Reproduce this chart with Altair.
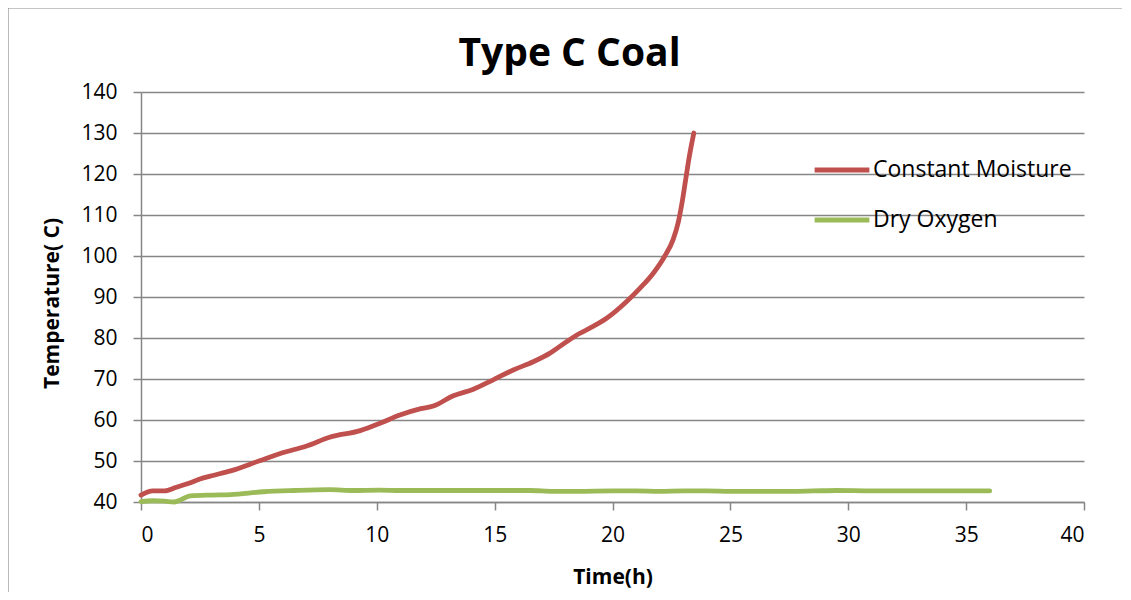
import altair as alt
import pandas as pd

# Constant Moisture series
cm_time = [0, 0.5, 1.0, 1.5, 2.0, 2.5, 3.0, 3.8, 5.0, 6.0, 7.0, 8.0, 9.3, 10.14, 10.98,
           11.83, 12.4, 13.25, 14.1, 14.94, 15.79, 16.64, 17.35, 18.05, 18.6, 19.04,
           19.75, 20.6, 21.16, 21.73, 22.22, 22.57, 22.8, 22.95, 23.1, 23.25, 23.45]
cm_temp = [41.7, 42.7, 42.7, 43.6, 44.5, 45.6, 46.4, 47.6, 50.0, 52.0, 53.6, 55.8, 57.4,
           59.2, 61.2, 62.7, 63.4, 65.9, 67.5, 69.8, 72.2, 74.2, 76.3, 79.1, 81.1, 82.4,
           84.8, 88.9, 92.1, 95.8, 100.0, 104.0, 108.5, 113.0, 118.5, 124.0, 130.0]

# Dry Oxygen series
do_time = [0, 0.5, 1.0, 1.4, 2.1, 3.0, 3.8, 5.2, 6.5, 8.0, 9.0, 10.1, 11.0, 12.3, 13.5,
           15.0, 16.5, 17.5, 18.5, 20.0, 21.0, 22.0, 23.0, 24.0, 25.0, 27.0, 28.5, 29.5,
           31.0, 33.0, 36.0]
do_temp = [40.1, 40.3, 40.2, 40.0, 41.5, 41.7, 41.8, 42.5, 42.8, 43.0, 42.8, 42.9, 42.8,
           42.8, 42.8, 42.8, 42.8, 42.6, 42.6, 42.7, 42.7, 42.6, 42.7, 42.7, 42.6, 42.6,
           42.7, 42.8, 42.7, 42.7, 42.7]

series_names = ["Constant Moisture", "Dry Oxygen"]
series_colors = ["#C0504D", "#9BBB59"]

x_ticks = [0, 5, 10, 15, 20, 25, 30, 35, 40]
y_ticks = [40, 50, 60, 70, 80, 90, 100, 110, 120, 130, 140]

df = pd.concat([
    pd.DataFrame({"time": cm_time, "temp": cm_temp, "series": series_names[0], "order": range(len(cm_time))}),
    pd.DataFrame({"time": do_time, "temp": do_temp, "series": series_names[1], "order": range(len(do_time))}),
])

FONT = "Open Sans"

lines = alt.Chart(df).mark_line(strokeWidth=4.8, interpolate="monotone", strokeCap="round").encode(
    x=alt.X("time:Q", scale=alt.Scale(domain=[0, 40], nice=False),
            axis=alt.Axis(values=x_ticks, title="Time(h)", grid=False, tickSize=8,
                          labelPadding=14, titleY=75, titleBaseline="middle")),
    y=alt.Y("temp:Q", scale=alt.Scale(domain=[40, 140], nice=False, zero=False),
            axis=alt.Axis(values=y_ticks, title="Temperature( C)", grid=True, tickSize=8,
                          labelPadding=16, titleX=-89, titleY=211, titleAngle=-90,
                          titleBaseline="middle", titleAlign="center")),
    color=alt.Color("series:N", scale=alt.Scale(domain=series_names, range=series_colors),
                    legend=alt.Legend(title=None, orient="none", legendX=671, legendY=48,
                                      symbolType="stroke", symbolSize=3000,
                                      symbolStrokeWidth=5, labelFontSize=23, labelFont=FONT,
                                      labelOffset=1, rowPadding=8, labelLimit=400)),
    order="order:Q",
)

border = alt.Chart(pd.DataFrame({"k": [0]})).mark_rect(
    fill=None, stroke="#8c8c8c", strokeWidth=1.2
).encode(x=alt.value(-133), x2=alt.value(1200), y=alt.value(-84), y2=alt.value(600))

chart = alt.layer(border, lines).properties(
    width=943, height=410,
    padding={"left": 133, "top": 84, "right": 38, "bottom": 90},
    autosize=alt.AutoSizeParams(type="none"),
    title=alt.TitleParams("Type C Coal", font=FONT, fontSize=39, fontWeight="bold",
                          color="black", anchor="middle", dx=-43, dy=98, offset=0,
                          baseline="alphabetic"),
).configure_view(stroke=None).configure_axis(
    labelFont=FONT, labelFontSize=21, labelColor="black",
    titleFont=FONT, titleFontSize=21, titleFontWeight="bold", titleColor="black",
    domainColor="#868686", tickColor="#868686", gridColor="#868686",
    domainWidth=1.5, tickWidth=1.5, gridWidth=1.5,
)

chart.save("out.html", embed_options={"renderer": "svg", "actions": False})
